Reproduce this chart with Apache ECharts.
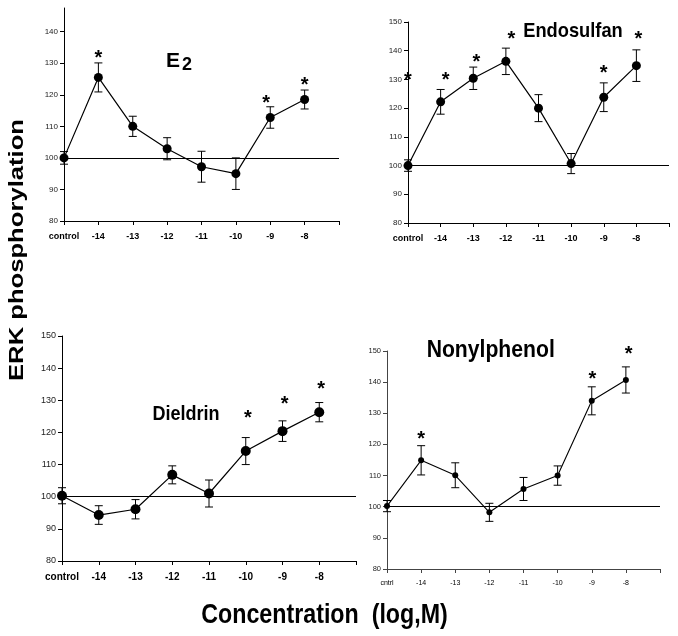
<!DOCTYPE html>
<html>
<head>
<meta charset="utf-8">
<script src="https://cdn.jsdelivr.net/npm/echarts@6/dist/echarts.min.js"></script>
<style>
html,body{margin:0;padding:0;background:#fff;}
#chart{width:678px;height:636px;}
</style>
</head>
<body>
<div id="chart"></div>
<script>
// ---- data ----
const categories = ['control', '-14', '-13', '-12', '-11', '-10', '-9', '-8'];
const categoriesNonyl = ['cntrl', '-14', '-13', '-12', '-11', '-10', '-9', '-8'];
const yTickValues = [80, 90, 100, 110, 120, 130, 140, 150];
const e2TickValues = [80, 90, 100, 110, 120, 130, 140];
const baseline = 100;

const e2Mean = [100, 125.5, 110, 102.9, 97.2, 95, 112.8, 118.5];
const e2Err = [2, 4.6, 3.2, 3.5, 4.9, 5, 3.4, 3];
const e2Stars = [[1, 133], [5.88, 118.8], [7, 124.5]];

const endoMean = [100, 122.2, 130.4, 136.3, 120, 100.7, 123.8, 134.8];
const endoErr = [2, 4.3, 3.9, 4.6, 4.7, 3.5, 5, 5.5];
const endoStars = [[0, 131.5], [1.15, 131.2], [2.1, 137.7], [3.17, 145.5], [6, 133.8], [7.06, 145.7]];

const dieldrinMean = [100.3, 94.3, 96.1, 106.8, 101, 114.2, 120.4, 126.3];
const dieldrinErr = [2.5, 2.9, 3, 2.8, 4.2, 4.2, 3.2, 3];
const dieldrinStars = [[5.06, 126], [6.06, 130.4], [7.05, 135]];

const nonylMean = [100.2, 114.9, 110.1, 98.2, 105.7, 110, 134, 140.7];
const nonylErr = [1.8, 4.7, 4, 2.9, 3.7, 3.1, 4.5, 4.2];
const nonylStars = [[1, 123.3], [6.02, 142.5], [7.08, 150.4]];

// ---- layout ----
const FONT = '"Liberation Sans", Arial, sans-serif';
const panels = [
  {grid: {left: 64, top: 8, width: 275, height: 213}, yMax: 147.5, yTicks: e2TickValues, cats: categories,
   mean: e2Mean, err: e2Err, stars: e2Stars, sym: 9, yFont: 8, xFont: 9, axisColor: '#000', lw: 1.2},
  {grid: {left: 408, top: 22, width: 261, height: 201}, yMax: 150, yTicks: yTickValues, cats: categories,
   mean: endoMean, err: endoErr, stars: endoStars, sym: 9, yFont: 8, xFont: 9, axisColor: '#000', lw: 1.2},
  {grid: {left: 62, top: 336, width: 294, height: 225}, yMax: 150, yTicks: yTickValues, cats: categories,
   mean: dieldrinMean, err: dieldrinErr, stars: dieldrinStars, sym: 10, yFont: 9, xFont: 10, axisColor: '#000', lw: 1.2},
  {grid: {left: 387, top: 351, width: 273, height: 218}, yMax: 150, yTicks: yTickValues, cats: categoriesNonyl,
   mean: nonylMean, err: nonylErr, stars: nonylStars, sym: 6, yFont: 7.5, xFont: 7, axisColor: '#444', lw: 1.1}
];

const option = {
  backgroundColor: '#fff',
  animation: false,
  grid: [], xAxis: [], yAxis: [], series: [],
  graphic: []
};

function errRender(params, api) {
  const x = api.value(0), m = api.value(1), e = api.value(2);
  const t = api.coord([x, m + e]);
  const b = api.coord([x, m - e]);
  const w = 4;
  const st = {stroke: '#000', lineWidth: 1};
  return {type: 'group', children: [
    {type: 'line', shape: {x1: t[0], y1: t[1], x2: b[0], y2: b[1]}, style: st},
    {type: 'line', shape: {x1: t[0] - w, y1: t[1], x2: t[0] + w, y2: t[1]}, style: st},
    {type: 'line', shape: {x1: b[0] - w, y1: b[1], x2: b[0] + w, y2: b[1]}, style: st}
  ]};
}
function starRender(params, api) {
  const p = api.coord([api.value(0), api.value(1)]);
  return {type: 'text', x: p[0], y: p[1] + 5,
    style: {text: '*', font: 'bold 20px ' + FONT, fill: '#000', align: 'center', verticalAlign: 'middle'}};
}

panels.forEach((p, i) => {
  option.grid.push(Object.assign({containLabel: false, outerBoundsMode: 'none'}, p.grid));
  const cats = p.cats;
  option.xAxis.push({
    type: 'value', gridIndex: i, min: 0, max: 8, interval: 1,
    axisLine: {show: true, onZero: false, lineStyle: {color: p.axisColor, width: 1}},
    axisTick: {show: true, inside: false, length: 4, lineStyle: {color: p.axisColor}},
    axisLabel: {show: true, margin: 11, fontFamily: FONT, fontSize: p.xFont, fontWeight: i === 3 ? 'normal' : 'bold', color: '#000',
      formatter: v => (cats[v] !== undefined ? cats[v] : '')},
    splitLine: {show: false}
  });
  option.yAxis.push({
    type: 'value', gridIndex: i, min: 80, max: p.yMax, interval: 10,
    axisLine: {show: true, lineStyle: {color: p.axisColor, width: 1}},
    axisTick: {show: true, length: 4, customValues: p.yTicks, lineStyle: {color: p.axisColor}},
    axisLabel: {show: true, margin: 6, fontFamily: FONT, fontSize: p.yFont, color: '#222', customValues: p.yTicks},
    splitLine: {show: false}
  });
  option.series.push({
    type: 'custom', xAxisIndex: i, yAxisIndex: i, renderItem: errRender, z: 3,
    data: p.mean.map((m, k) => [k, m, p.err[k]]), silent: true
  });
  option.series.push({
    type: 'line', xAxisIndex: i, yAxisIndex: i, z: 4,
    data: p.mean.map((m, k) => [k, m]),
    symbol: 'circle', symbolSize: p.sym, showSymbol: true,
    itemStyle: {color: '#000'}, lineStyle: {color: '#000', width: p.lw},
    markLine: {silent: true, symbol: ['none', 'none'], label: {show: false},
      lineStyle: {color: '#000', width: 1, type: 'solid'}, data: [{yAxis: baseline}]}
  });
  option.series.push({
    type: 'custom', xAxisIndex: i, yAxisIndex: i, renderItem: starRender, clip: false, z: 5,
    data: p.stars, silent: true
  });
});

function txt(x, y, text, size, sx, extra) {
  return Object.assign({type: 'text', x: x, y: y, scaleX: sx, z: 10,
    style: {text: text, font: 'bold ' + size + 'px ' + FONT, fill: '#000', textAlign: 'center', textVerticalAlign: 'middle'}}, extra || {});
}
option.graphic = [
  txt(173, 61, 'E', 21, 1),
  txt(187, 65, '2', 18, 1),
  txt(573, 31.5, 'Endosulfan', 21, 0.87),
  txt(186, 414.7, 'Dieldrin', 20.5, 0.88),
  txt(490.7, 350.8, 'Nonylphenol', 23, 0.92),
  txt(324.5, 615, 'Concentration  (log,M)', 28, 0.83),
  txt(17, 250, 'ERK phosphorylation', 20.5, 1.25, {rotation: Math.PI / 2})
];

const chart = echarts.init(document.getElementById('chart'), null, {renderer: 'canvas'});
chart.setOption(option);
</script>
</body>
</html>
